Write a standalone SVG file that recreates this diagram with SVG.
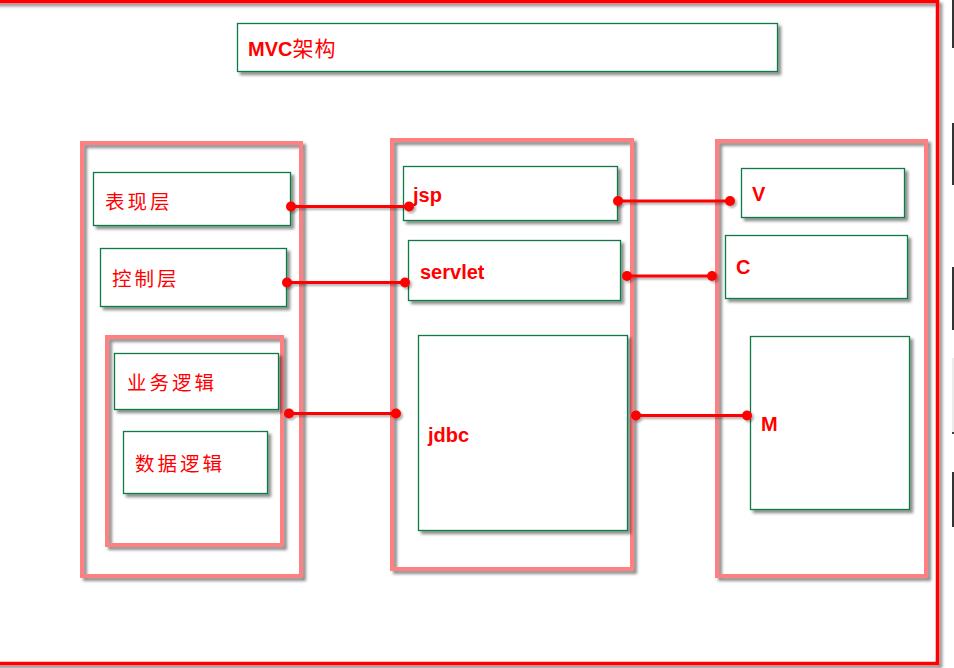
<svg xmlns="http://www.w3.org/2000/svg" width="954" height="668" viewBox="0 0 954 668">
<defs>
<filter id="sh" x="-10%" y="-10%" width="130%" height="130%">
<feDropShadow dx="3" dy="3" stdDeviation="1.6" flood-color="#000" flood-opacity="0.45"/>
</filter>
<filter id="shl" x="-10%" y="-50%" width="130%" height="300%">
<feDropShadow dx="2" dy="2" stdDeviation="1.2" flood-color="#000" flood-opacity="0.3"/>
</filter>
<style>
.frame{fill:none;stroke:#ff0000;stroke-width:3.5}
.grp{fill:none;stroke:#ff8080;stroke-width:4}
.box{fill:#fff;stroke:#0a7a45;stroke-width:1.3}
.cjk{font-family:"Noto Sans CJK SC","Liberation Sans",sans-serif;font-size:19.5px;fill:#ff0000;letter-spacing:3px}
.lat{font-family:"Liberation Sans",Arial,sans-serif;font-weight:bold;font-size:20px;fill:#ff0000}
.ln{stroke:#ff0000;stroke-width:3.2;fill:none}
.dot{fill:#ff0000}
.blk{stroke:#000;stroke-width:1.6}
</style>
</defs>
<rect width="954" height="668" fill="#fff"/>
<g id="outer-frame" filter="url(#sh)">
<rect class="frame" x="-10" y="1.5" width="947.5" height="662"/>
</g>
<g id="edge-fragments">
<line class="blk" x1="953" y1="0" x2="953" y2="48"/>
<line class="blk" x1="953" y1="123" x2="953" y2="185"/>
<line class="blk" x1="953" y1="267" x2="953" y2="330"/>
<line x1="953" y1="358" x2="953" y2="433" stroke="#e6e6e6" stroke-width="1.5"/>
<line class="blk" x1="952" y1="433" x2="954" y2="433"/>
<line class="blk" x1="953" y1="472" x2="953" y2="527"/>
</g>
<g id="title">
<rect class="box" x="237.5" y="23.5" width="540" height="48" filter="url(#sh)"/>
<text x="248" y="56" class="lat" style="font-family:'Liberation Sans','Noto Sans CJK SC',sans-serif;font-size:20px">MVC<tspan font-weight="normal" style="font-family:'Noto Sans CJK SC',sans-serif;font-size:21px" letter-spacing="1">架构</tspan></text>
</g>

<g id="group-left" filter="url(#sh)"><rect class="grp" x="82" y="143" width="219" height="433"/></g>
<g id="group-middle" filter="url(#sh)"><rect class="grp" x="392" y="140" width="240" height="429"/></g>
<g id="group-right" filter="url(#sh)"><rect class="grp" x="717" y="141" width="209" height="435"/></g>
<g id="group-inner" filter="url(#sh)"><rect class="grp" x="107" y="337" width="175" height="208"/></g>

<g id="node-biaoxian">
<rect class="box" x="93.5" y="172.5" width="197" height="53" filter="url(#sh)"/>
<text x="105" y="209" class="cjk">表现层</text>
</g>
<g id="node-kongzhi">
<rect class="box" x="100.5" y="248.5" width="186" height="58" filter="url(#sh)"/>
<text x="112" y="286" class="cjk">控制层</text>
</g>
<g id="node-yewu">
<rect class="box" x="114.5" y="353.5" width="164" height="56" filter="url(#sh)"/>
<text x="127" y="390" class="cjk">业务逻辑</text>
</g>
<g id="node-shuju">
<rect class="box" x="123.5" y="431.5" width="144" height="62" filter="url(#sh)"/>
<text x="135" y="471" class="cjk">数据逻辑</text>
</g>
<g id="node-jsp">
<rect class="box" x="403.5" y="166.5" width="214" height="54" filter="url(#sh)"/>
<text x="413" y="202" class="lat">jsp</text>
</g>
<g id="node-servlet">
<rect class="box" x="408.5" y="240.5" width="212" height="60" filter="url(#sh)"/>
<text x="420" y="279" class="lat">servlet</text>
</g>
<g id="node-jdbc">
<rect class="box" x="418.5" y="335.5" width="209" height="195" filter="url(#sh)"/>
<text x="428" y="442" class="lat">jdbc</text>
</g>
<g id="node-V">
<rect class="box" x="741.5" y="168.5" width="163" height="49" filter="url(#sh)"/>
<text x="752" y="201" class="lat">V</text>
</g>
<g id="node-C">
<rect class="box" x="725.5" y="235.5" width="182" height="63" filter="url(#sh)"/>
<text x="736" y="274" class="lat">C</text>
</g>
<g id="node-M">
<rect class="box" x="750.5" y="336.5" width="159" height="173" filter="url(#sh)"/>
<text x="761" y="431" class="lat">M</text>
</g>

<g id="connectors" filter="url(#shl)">
<line class="ln" x1="291" y1="206.5" x2="409" y2="206.5"/>
<circle class="dot" cx="291" cy="206.5" r="5"/><circle class="dot" cx="409" cy="206.5" r="5"/>
<line class="ln" x1="287" y1="282.5" x2="405" y2="282.5"/>
<circle class="dot" cx="287" cy="282.5" r="5"/><circle class="dot" cx="405" cy="282.5" r="5"/>
<line class="ln" x1="289" y1="413.5" x2="396" y2="413.5"/>
<circle class="dot" cx="289" cy="413.5" r="5"/><circle class="dot" cx="396" cy="413.5" r="5"/>
<line class="ln" x1="618" y1="201" x2="730" y2="201"/>
<circle class="dot" cx="618" cy="201" r="5"/><circle class="dot" cx="730" cy="201" r="5"/>
<line class="ln" x1="627" y1="276" x2="712" y2="276"/>
<circle class="dot" cx="627" cy="276" r="5"/><circle class="dot" cx="712" cy="276" r="5"/>
<line class="ln" x1="636" y1="415.5" x2="747" y2="415.5"/>
<circle class="dot" cx="636" cy="415.5" r="5"/><circle class="dot" cx="747" cy="415.5" r="5"/>
</g>
</svg>
